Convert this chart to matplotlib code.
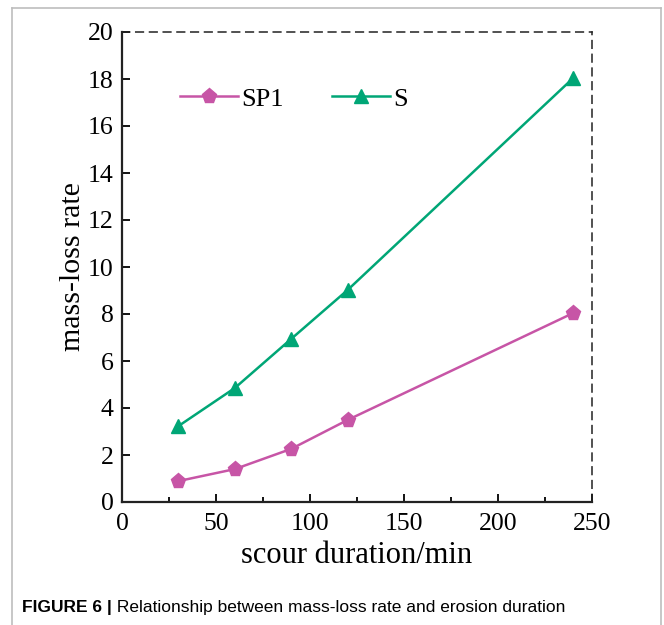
import matplotlib
matplotlib.use("Agg")
import matplotlib.pyplot as plt
from matplotlib.lines import Line2D
from matplotlib.ticker import MultipleLocator

duration = [30, 60, 90, 120, 240]
sp1 = [0.89, 1.40, 2.26, 3.49, 8.04]
s = [3.23, 4.85, 6.94, 9.02, 18.04]
series_names = ["SP1", "S"]
x_label = "scour duration/min"
y_label = "mass-loss rate"
caption_bold = "FIGURE 6 |"
caption_text = " Relationship between mass-loss rate and erosion duration"

c_sp1 = "#C755A6"
c_s = "#00A676"

plt.rcParams["font.family"] = ["Liberation Serif", "DejaVu Serif"]

W, H = 664, 625
fig = plt.figure(figsize=(W / 100, H / 100), dpi=100)
ax = fig.add_axes([122 / W, 1 - 502 / H, (592 - 122) / W, (502 - 32) / H])

ax.plot(duration, sp1, color=c_sp1, lw=1.8, marker="p", ms=11, label=series_names[0])
ax.plot(duration, s, color=c_s, lw=1.8, marker="^", ms=10, label=series_names[1])

ax.set_xlim(0, 250)
ax.set_ylim(0, 20)
ax.xaxis.set_major_locator(MultipleLocator(50))
ax.xaxis.set_minor_locator(MultipleLocator(25))
ax.yaxis.set_major_locator(MultipleLocator(2))
ax.tick_params(axis="both", which="major", direction="in", length=6, width=1.3,
               labelsize=18.5, colors="black")
ax.tick_params(axis="y", which="major", pad=6)
ax.tick_params(axis="x", which="major", pad=8)
ax.tick_params(axis="x", which="minor", direction="in", length=3.5, width=1.3)

for side in ["left", "bottom"]:
    ax.spines[side].set_linewidth(1.6)
    ax.spines[side].set_color("#222222")
for side in ["top", "right"]:
    ax.spines[side].set_linewidth(1.1)
    ax.spines[side].set_linestyle((0, (5, 4)))
    ax.spines[side].set_color("#222222")

ax.set_xlabel(x_label, fontsize=22, labelpad=4)
ax.set_ylabel(y_label, fontsize=21.5)
ax.yaxis.set_label_coords((86 - 122) / 470, 0.5)

leg = ax.legend(loc="upper left", bbox_to_anchor=(0.1, 0.905), ncol=2, frameon=False,
                fontsize=19, handlelength=2.2, handletextpad=0.15, columnspacing=1.8,
                borderaxespad=0)

# outer gray frame
frame_kw = dict(color="#BDBDBD", lw=1.2, transform=fig.transFigure)
fig.add_artist(Line2D([12 / W, 661 / W], [1 - 8 / H, 1 - 8 / H], **frame_kw))
fig.add_artist(Line2D([12 / W, 12 / W], [1 - 8 / H, 0], **frame_kw))
fig.add_artist(Line2D([661 / W, 661 / W], [1 - 8 / H, 0], **frame_kw))

t1 = fig.text(22 / W, 1 - 612 / H, caption_bold, fontsize=12.5, fontweight="bold",
              family=["Liberation Sans", "DejaVu Sans"], va="baseline")
fig.canvas.draw()
bb = t1.get_window_extent()
fig.text(bb.x1 / W, 1 - 612 / H, caption_text, fontsize=12.5,
         family=["Liberation Sans", "DejaVu Sans"], va="baseline")

fig.savefig("out.png", dpi=100)
